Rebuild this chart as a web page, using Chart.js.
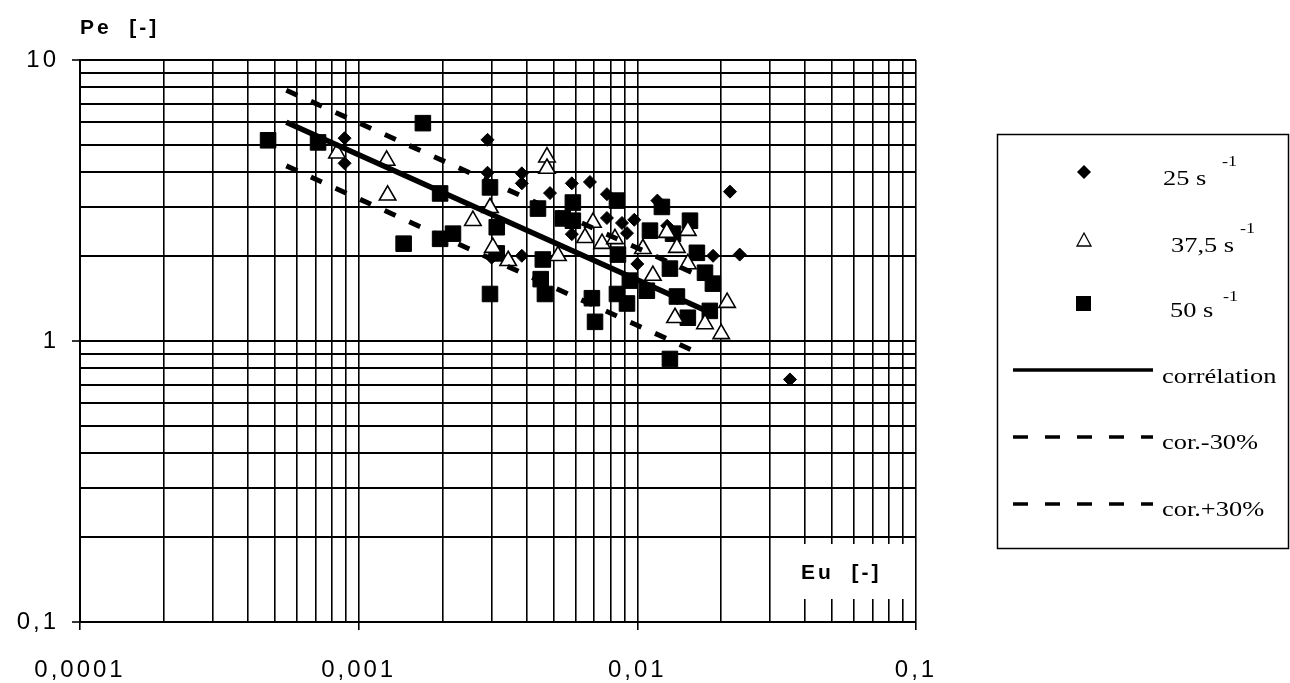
<!DOCTYPE html>
<html>
<head>
<meta charset="utf-8">
<script src="https://cdn.jsdelivr.net/npm/chart.js@4.4.1/dist/chart.umd.min.js"></script>
<style>
  html, body { margin: 0; padding: 0; background: #fff; }
  #wrap { width: 1290px; height: 683px; }
</style>
</head>
<body>
<div id="wrap"><canvas id="pe_eu_chart" width="1290" height="683"></canvas></div>
<script>
// Pe = f(Eu), log-log, 3 shear rates + correlation and +/-30% band

// 25 s-1 (diamonds)
const eu25 = [0.00089, 0.00089, 0.0029, 0.0029, 0.003, 0.00385, 0.00385, 0.00385, 0.00486, 0.00582,
              0.00676, 0.00778, 0.00778, 0.00881, 0.00975, 0.0118, 0.0215, 0.0233, 0.0187, 0.00582,
              0.00918, 0.0128, 0.0100, 0.0139, 0.0353];
const pe25 = [5.27, 4.29, 5.2, 3.97, 1.98, 3.95, 3.64, 2.01, 3.36, 3.64,
              3.68, 3.33, 2.74, 2.63, 2.7, 3.16, 3.4, 2.03, 2.01, 2.4,
              2.42, 2.57, 1.88, 1.42, 0.73];

// 37,5 s-1 (open triangles)
const eu37 = [0.000836, 0.00126, 0.00127, 0.00257, 0.00296, 0.00303, 0.00344, 0.00474, 0.00474, 0.00519,
              0.00693, 0.00649, 0.00747, 0.00831, 0.01047, 0.01137, 0.01276, 0.01387, 0.01518, 0.01518,
              0.021, 0.01365, 0.01749, 0.02];
const pe37 = [4.66, 4.39, 3.3, 2.68, 2.98, 2.15, 1.93, 4.51, 4.11, 2.01,
              2.64, 2.33, 2.22, 2.31, 2.13, 1.71, 2.43, 2.15, 2.47, 1.88,
              1.37, 1.21, 1.15, 1.06];

// 50 s-1 (filled squares)
const eu50 = [0.000473, 0.000715, 0.0017, 0.00196, 0.00145, 0.00196, 0.00218, 0.00296, 0.00296, 0.00313,
              0.00313, 0.0044, 0.00587, 0.0054, 0.00587, 0.00458, 0.0045, 0.00466, 0.00687, 0.00705,
              0.00845, 0.00852, 0.00845, 0.00918, 0.0111, 0.01225, 0.01343, 0.01309, 0.01387, 0.01545,
              0.01636, 0.01749, 0.01867, 0.0182, 0.01518, 0.01082, 0.0094, 0.01309];
const pe50 = [5.18, 5.09, 5.96, 3.35, 2.22, 2.31, 2.41, 1.47, 3.52, 2.54,
              2.05, 2.96, 3.11, 2.73, 2.68, 1.95, 1.66, 1.47, 1.42, 1.17,
              3.16, 2.03, 1.47, 1.36, 2.47, 3.0, 2.41, 1.81, 1.44, 2.68,
              2.06, 1.75, 1.6, 1.28, 1.21, 1.51, 1.64, 0.863];

// correlation and the +/-30% lines (end points)
const corrEu = [0.00055, 0.019];
const corrPe = [6.0, 1.24];
const corrMinusEu = [0.00055, 0.016];
const corrMinusPe = [4.2, 0.92];
const corrPlusEu = [0.00055, 0.019];
const corrPlusPe = [7.8, 1.61];

// axes
const xMajor = [0.0001, 0.001, 0.01, 0.1];
const xTickLabels = ['0,0001', '0,001', '0,01', '0,1'];
const yMajor = [0.1, 1, 10];
const yTickLabels = ['0,1', '1', '10'];
const minorSteps = [1, 2, 3, 4, 5, 6, 7, 8, 9];

const seriesLabels = ['25 s', '37,5 s', '50 s'];
const lineLabels = ['corrélation', 'cor.-30%', 'cor.+30%'];

function pts(xs, ys) {
    return xs.map(function (x, i) { return {x: x, y: ys[i]}; });
}

function logTicks(majors) {
    let out = [];
    for (let i = 0; i < majors.length - 1; i++) {
        minorSteps.forEach(function (m) { out.push(majors[i] * m); });
    }
    out.push(majors[majors.length - 1]);
    return out;
}

function majorIndex(v, majors) {
    for (let i = 0; i < majors.length; i++) {
        if (Math.abs(v / majors[i] - 1) < 1e-6) return i;
    }
    return -1;
}

// text spacing for tick labels, reset before the marks are drawn
const spacingPlugin = {
    id: 'spacing',
    beforeDraw: function (chart) { chart.ctx.letterSpacing = '3px'; },
    beforeDatasetsDraw: function (chart) { chart.ctx.letterSpacing = '0px'; }
};

function serifText(ctx, txt, x, y, size) {
    ctx.save();
    ctx.translate(x, y);
    ctx.scale(1.2, 1);
    ctx.font = size + 'px "Liberation Serif", "Times New Roman", serif';
    ctx.textAlign = 'left';
    ctx.textBaseline = 'alphabetic';
    ctx.fillText(txt, 0, 0);
    ctx.restore();
}

const extrasPlugin = {
    id: 'extras',
    afterDraw: function (chart) {
        const ctx = chart.ctx;
        ctx.save();
        ctx.letterSpacing = '3px';
        ctx.fillStyle = '#000';
        ctx.font = 'bold 21px "Liberation Sans", Arial, sans-serif';
        ctx.textBaseline = 'middle';
        ctx.textAlign = 'left';
        ctx.fillText('Pe  [-]', 80, 28);

        // x title sits inside the plot on a white patch
        ctx.fillStyle = '#fff';
        ctx.fillRect(781, 544, 128, 55);
        ctx.fillStyle = '#000';
        ctx.fillText('Eu  [-]', 801, 573);
        ctx.letterSpacing = '0px';

        // legend box
        ctx.strokeStyle = '#000';
        ctx.lineWidth = 1.5;
        ctx.strokeRect(997.5, 134.5, 291, 414);

        // diamond
        ctx.beginPath();
        ctx.moveTo(1084, 165); ctx.lineTo(1091, 172); ctx.lineTo(1084, 179); ctx.lineTo(1077, 172);
        ctx.closePath(); ctx.fill();
        // triangle
        ctx.beginPath();
        ctx.moveTo(1084, 233); ctx.lineTo(1091, 246); ctx.lineTo(1077, 246);
        ctx.closePath(); ctx.lineWidth = 1.3; ctx.stroke();
        // square
        ctx.fillRect(1076, 296, 15, 15);

        const txtX = [1163, 1171, 1170];
        const txtY = [185, 252, 317];
        const supX = [1222, 1240, 1223];
        const supY = [166, 233, 301];
        seriesLabels.forEach(function (t, i) {
            serifText(ctx, t, txtX[i], txtY[i], 22);
            serifText(ctx, '-1', supX[i], supY[i], 15);
        });

        const lineY = [370, 437, 504];
        const lblY = [383, 449, 516];
        lineLabels.forEach(function (t, i) {
            ctx.beginPath();
            ctx.lineWidth = 3.5;
            ctx.setLineDash(i === 0 ? [] : [15, 17]);
            ctx.moveTo(1013, lineY[i]);
            ctx.lineTo(1153, lineY[i]);
            ctx.stroke();
            ctx.setLineDash([]);
            serifText(ctx, t, 1162, lblY[i], 22);
        });
        ctx.restore();
    }
};

let ctx = document.getElementById('pe_eu_chart').getContext('2d');
const peChart = new Chart(ctx, {
    type: 'scatter',
    data: {
        datasets: [{
            label: 'corrélation',
            data: pts(corrEu, corrPe),
            showLine: true,
            borderColor: '#000',
            borderWidth: 5.5,
            pointRadius: 0,
            order: 0
        }, {
            label: 'cor.-30%',
            data: pts(corrMinusEu, corrMinusPe),
            showLine: true,
            borderColor: '#000',
            borderWidth: 5,
            borderDash: [12, 15],
            pointRadius: 0,
            order: 0
        }, {
            label: 'cor.+30%',
            data: pts(corrPlusEu, corrPlusPe),
            showLine: true,
            borderColor: '#000',
            borderWidth: 5,
            borderDash: [12, 15],
            pointRadius: 0,
            order: 0
        }, {
            label: '37,5 s-1',
            data: pts(eu37, pe37),
            pointStyle: 'triangle',
            pointRadius: 9.5,
            backgroundColor: '#fff',
            borderColor: '#000',
            borderWidth: 1.6,
            order: 1
        }, {
            label: '50 s-1',
            data: pts(eu50, pe50),
            pointStyle: 'rect',
            pointRadius: 11,
            backgroundColor: '#000',
            borderColor: '#000',
            borderWidth: 1,
            order: 2
        }, {
            label: '25 s-1',
            data: pts(eu25, pe25),
            pointStyle: 'rectRot',
            pointRadius: 6.5,
            backgroundColor: '#000',
            borderColor: '#000',
            borderWidth: 1,
            order: 3
        }]
    },
    options: {
        responsive: false,
        animation: false,
        layout: {
            padding: {top: 60, right: 374, bottom: 0, left: 0}
        },
        plugins: {
            legend: {display: false},
            tooltip: {enabled: false}
        },
        scales: {
            x: {
                type: 'logarithmic',
                min: 0.0001,
                max: 0.1,
                afterBuildTicks: function (s) {
                    s.ticks = logTicks(xMajor).map(function (v) { return {value: v}; });
                },
                afterFit: function (s) { s.height = 61; },
                ticks: {
                    autoSkip: false,
                    maxRotation: 0,
                    minRotation: 0,
                    padding: 26,
                    color: '#000',
                    font: {family: '"Liberation Sans", Arial, sans-serif', size: 24},
                    callback: function (value) {
                        let i = majorIndex(value, xMajor);
                        return i >= 0 ? xTickLabels[i] : '';
                    }
                },
                grid: {
                    color: '#000',
                    lineWidth: 1.6,
                    tickLength: 8,
                    tickWidth: 1.6,
                    tickColor: function (c) {
                        return c.tick && majorIndex(c.tick.value, xMajor) >= 0 ? '#000' : 'rgba(0,0,0,0)';
                    }
                },
                border: {color: '#000', width: 2}
            },
            y: {
                type: 'logarithmic',
                min: 0.1,
                max: 10,
                afterBuildTicks: function (s) {
                    s.ticks = logTicks(yMajor).map(function (v) { return {value: v}; });
                },
                afterFit: function (s) { s.width = 80; },
                ticks: {
                    autoSkip: false,
                    padding: 13,
                    color: '#000',
                    font: {family: '"Liberation Sans", Arial, sans-serif', size: 24},
                    callback: function (value) {
                        let i = majorIndex(value, yMajor);
                        return i >= 0 ? yTickLabels[i] : '';
                    }
                },
                grid: {
                    color: '#000',
                    lineWidth: 2,
                    tickLength: 8,
                    tickWidth: 1.6,
                    tickColor: function (c) {
                        return c.tick && majorIndex(c.tick.value, yMajor) >= 0 ? '#000' : 'rgba(0,0,0,0)';
                    }
                },
                border: {color: '#000', width: 2}
            }
        }
    },
    plugins: [spacingPlugin, extrasPlugin]
});
</script>
</body>
</html>
